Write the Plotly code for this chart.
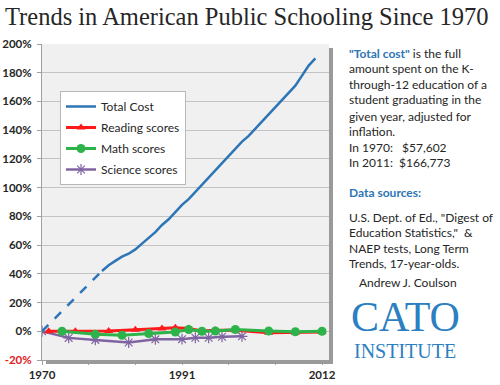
import plotly.graph_objects as go

# ---------------- data ----------------
cost_dash_years = [1970, 1979]
cost_dash_values = [0, 42]
cost_years = list(range(1979, 2012))
cost_values = [42, 46, 49, 52, 54, 57, 61, 65, 69, 74, 78, 83, 88, 92, 97, 102,
               107, 112, 117, 122, 127, 132, 136, 141, 146, 151, 156, 161, 166,
               171, 178, 185, 190]

reading_years = [1971, 1975, 1980, 1984, 1988, 1990, 1992, 1994, 1996, 1999, 2004, 2008, 2012]
reading_values = [0, 0, 0.2, 1, 2, 2.5, 1.9, 0.2, 0.7, 0.7, -1, -1, -0.5]

math_years = [1973, 1978, 1982, 1986, 1990, 1992, 1994, 1996, 1999, 2004, 2008, 2012]
math_values = [0, -2, -2.8, -1.6, -0.5, 1.2, 0, 0.2, 1.2, 0.2, -0.3, 0]

science_years = [1970, 1974, 1978, 1983, 1987, 1991, 1993, 1995, 1997, 2000]
science_values = [0, -4.6, -6, -7.8, -5.6, -5.5, -4.5, -4.5, -3.8, -3.5]

y_tickvals = [-20, 0, 20, 40, 60, 80, 100, 120, 140, 160, 180, 200]
y_ticktext = ['<span style="color:#e02020">-20%</span>'] + [f"{v}%" for v in y_tickvals[1:]]
x_tickvals = [1970, 1977, 1984, 1991, 1998, 2005, 2012]
x_ticktext = ["1970", "", "", "1991", "", "", "2012"]

# ---------------- geometry helpers ----------------
W, H = 500, 385
L, R, T, B = 42, 329, 44, 360


def px(xp):
    return (xp - L) / (R - L)


def py(yp):
    return (B - yp) / (B - T)


BLUE = "#2e75b6"
fig = go.Figure()

fig.add_trace(go.Scatter(x=science_years, y=science_values, mode="lines+markers",
                         name="Science scores", legendrank=4, legendgroup="d",
                         line=dict(color="#8064a2", width=2.5),
                         marker=dict(symbol="asterisk-open", size=9,
                                     line=dict(color="#a898d4", width=1.2))))
fig.add_trace(go.Scatter(x=reading_years, y=reading_values, mode="lines+markers",
                         name="Reading scores", legendrank=2, legendgroup="b",
                         line=dict(color="#ff1a1a", width=3),
                         marker=dict(symbol="triangle-up", size=8, color="#ff1a1a")))
fig.add_trace(go.Scatter(x=math_years, y=math_values, mode="lines+markers",
                         name="Math scores", legendrank=3, legendgroup="c",
                         line=dict(color="#2eb34a", width=3),
                         marker=dict(symbol="circle", size=9, color="#2eb34a")))
fig.add_trace(go.Scatter(x=cost_dash_years, y=cost_dash_values, mode="lines",
                         showlegend=False, line=dict(color=BLUE, width=2.5, dash="dash")))
fig.add_trace(go.Scatter(x=cost_years, y=cost_values, mode="lines",
                         name="Total Cost", legendrank=1, legendgroup="a",
                         line=dict(color=BLUE, width=2.5)))

fig.update_layout(
    template="none",
    width=W, height=H,
    margin=dict(l=L, r=W - R, t=T, b=H - B, pad=0),
    paper_bgcolor="white", plot_bgcolor="#f0f0f0",
    font=dict(family="Lato", color="#262626"),
    showlegend=True,
    legend=dict(x=px(60), y=py(91), xanchor="left", yanchor="top",
                bgcolor="white", bordercolor="#b8b8b8", borderwidth=1,
                font=dict(family="Lato", size=12, color="#262626"),
                itemwidth=30, traceorder="grouped", tracegroupgap=2),
    xaxis=dict(range=[1970, 1970 + (R - L) / 6.667], tickvals=x_tickvals, ticktext=x_ticktext,
               automargin=False,
               showgrid=False, zeroline=False, showline=True, linecolor="#a0a0a0",
               ticks="outside", ticklen=4, tickcolor="#a0a0a0",
               tickfont=dict(family="Lato", size=11.5, color="#262626", weight="bold")),
    yaxis=dict(range=[-20, 200], tickvals=y_tickvals, ticktext=y_ticktext,
               automargin=False,
               showgrid=True, gridcolor="#c4c4c4", gridwidth=1, zeroline=False,
               showline=True, linecolor="#a0a0a0", ticks="outside", ticklen=4,
               tickcolor="#a0a0a0", ticklabelstandoff=3,
               tickfont=dict(family="Lato", size=11.5, color="#262626", weight="bold")),
)

# shadow of plot area
fig.add_shape(type="rect", xref="paper", yref="paper", x0=px(R), x1=px(R + 4),
              y0=py(B + 4), y1=py(T + 4), fillcolor="#9a9a9a", line=dict(width=0), layer="above")
fig.add_shape(type="rect", xref="paper", yref="paper", x0=px(L + 4), x1=px(R + 4),
              y0=py(B + 4), y1=py(B), fillcolor="#9a9a9a", line=dict(width=0), layer="above")

# title
fig.add_annotation(xref="paper", yref="paper", x=px(247), y=py(17), xanchor="center", yanchor="middle",
                   text="Trends in American Public Schooling Since 1970", showarrow=False,
                   font=dict(family="Liberation Serif", size=24.5, color="#262626"))

# right panel text
lines = [
    (53, '<b><span style="color:#2e75b6">"Total cost"</span></b> is the full'),
    (68.5, "amount spent on the K-"),
    (84, "through-12 education of a"),
    (100, "student graduating in the"),
    (116, "given year, adjusted for"),
    (131.5, "inflation."),
    (147, "In 1970:   $57,602"),
    (162, "In 2011:  $166,773"),
    (192, '<b><span style="color:#2e75b6">Data sources:</span></b>'),
    (217, 'U.S. Dept. of Ed., "Digest of'),
    (232, 'Education Statistics,"  &'),
    (248, "NAEP tests, Long Term"),
    (263, "Trends, 17-year-olds."),
]
for yp, t in lines:
    fig.add_annotation(xref="paper", yref="paper", x=px(347), y=py(yp), xanchor="left",
                       yanchor="middle", text=t, showarrow=False,
                       font=dict(family="Lato", size=12, color="#262626"))
fig.add_annotation(xref="paper", yref="paper", x=px(357), y=py(282), xanchor="left",
                   yanchor="middle", text="Andrew J. Coulson", showarrow=False,
                   font=dict(family="Lato", size=12, color="#262626"))
fig.add_annotation(xref="paper", yref="paper", x=px(405), y=py(317), xanchor="center",
                   yanchor="middle", text="CATO", showarrow=False,
                   font=dict(family="Liberation Serif", size=42, color="#2c7fc1"))
fig.add_annotation(xref="paper", yref="paper", x=px(405), y=py(351), xanchor="center",
                   yanchor="middle", text="INSTITUTE", showarrow=False,
                   font=dict(family="Liberation Serif", size=20, color="#2c7fc1"))

fig.write_html("out.html", config={"displayModeBar": False},
               post_script="document.body.style.margin='0px';")
